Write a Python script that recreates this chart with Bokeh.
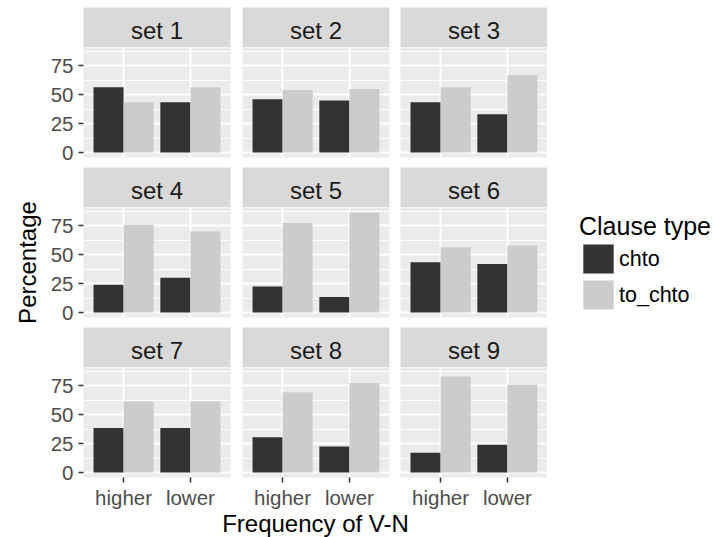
from bokeh.plotting import figure
from bokeh.layouts import row, column
from bokeh.models import (ColumnDataSource, FactorRange, Range1d, FixedTicker,
                          CategoricalTicker, Legend, LegendItem)
from bokeh.transform import dodge
from bokeh.core.properties import value
from bokeh.embed import file_html
from bokeh.resources import INLINE

# ---------------- data ----------------
sets = ["set 1", "set 2", "set 3", "set 4", "set 5", "set 6", "set 7", "set 8", "set 9"]
freq_levels = ["higher", "lower"]
clause_types = ["chto", "to_chto"]
chto_higher = [56.5, 46, 43.5, 24, 22.5, 43.5, 38.5, 30.5, 17]
chto_lower = [43.5, 45, 33, 30, 13.5, 42, 38.5, 22.5, 24]
to_chto_higher = [43.5, 54, 56.5, 76, 77.5, 56.5, 61.5, 69.5, 83]
to_chto_lower = [56.5, 55, 67, 70, 86.5, 58, 61.5, 77.5, 76]
y_ticks = [0, 25, 50, 75]
y_minor_ticks = [12.5, 37.5, 62.5, 87.5]
fill_colors = ["#333333", "#CCCCCC"]
x_title = "Frequency of V-N"
y_title = "Percentage"
legend_title = "Clause type"

FONT = "Liberation Sans"
ymax = max(max(chto_higher), max(chto_lower), max(to_chto_higher), max(to_chto_lower))
y_range = Range1d(-0.05 * ymax, 1.05 * ymax)

FRAME_W, FRAME_H, STRIP_H = 147, 110, 40
YLAB_W = 46
LEFT = [37, 0, 0]
RIGHT = [12, 11, 0]


def blank(**kw):
    f = figure(x_range=kw.pop("x_range", Range1d(0, 1)), y_range=Range1d(0, 1),
               x_axis_location=None, y_axis_location=kw.pop("y_axis_location", None),
               outline_line_color=None, toolbar_location=None,
               output_backend="svg", **kw)
    f.grid.visible = False
    return f


facets = []
for i, name in enumerate(sets):
    r, c = divmod(i, 3)
    s = blank(frame_width=FRAME_W, frame_height=STRIP_H,
              min_border_left=LEFT[c], min_border_right=RIGHT[c],
              min_border_top=7 if r == 0 else 0, min_border_bottom=0,
              background_fill_color="#D9D9D9")
    s.text(x=[0.5], y=[0.43], text=[name], text_align="center", text_baseline="middle",
           text_font=value(FONT), text_font_size="24px", text_color="#1A1A1A")

    src = ColumnDataSource(dict(freq=freq_levels,
                                chto=[chto_higher[i], chto_lower[i]],
                                to_chto=[to_chto_higher[i], to_chto_lower[i]]))
    xr = FactorRange(factors=freq_levels, range_padding=0.1, range_padding_units="percent")
    p = figure(x_range=xr, y_range=y_range,
               frame_width=FRAME_W, frame_height=FRAME_H,
               x_axis_location="below" if r == 2 else None,
               y_axis_location="left" if c == 0 else None,
               min_border_left=LEFT[c], min_border_right=RIGHT[c],
               min_border_top=0, min_border_bottom=32 if r == 2 else 10,
               background_fill_color="#EBEBEB", outline_line_color=None,
               toolbar_location=None, output_backend="svg")
    p.xgrid.ticker = CategoricalTicker()
    p.ygrid.ticker = FixedTicker(ticks=y_ticks, minor_ticks=y_minor_ticks)
    p.grid.grid_line_color = "white"
    p.grid.grid_line_width = 2
    p.ygrid.minor_grid_line_color = "white"
    p.ygrid.minor_grid_line_width = 1

    p.vbar(x=dodge("freq", -0.225, range=xr), top="chto", width=0.45, bottom=0,
           source=src, fill_color=fill_colors[0], line_color=None)
    p.vbar(x=dodge("freq", 0.225, range=xr), top="to_chto", width=0.45, bottom=0,
           source=src, fill_color=fill_colors[1], line_color=None)

    for ax in p.axis:
        ax.axis_line_color = None
        ax.major_tick_line_color = "#333333"
        ax.major_tick_line_width = 1.5
        ax.major_tick_out = 5
        ax.major_tick_in = 0
        ax.minor_tick_line_color = None
        ax.major_label_text_font = FONT
        ax.major_label_text_font_size = "20.5px"
        ax.major_label_text_color = "#4D4D4D"
    if c == 0:
        p.yaxis.ticker = FixedTicker(ticks=y_ticks)
        p.yaxis.major_label_standoff = 5
    if r == 2:
        p.xaxis.major_label_standoff = 3
    facets.append(column(s, p))

# y-axis title: an axis label of a tick-less axis whose frame spans the panel area
ylab = blank(y_axis_location="left", frame_width=6, frame_height=430,
             min_border_left=YLAB_W - 6, min_border_right=0,
             min_border_top=47, min_border_bottom=59)
ylab.frame_align = False
ylab.yaxis.ticker = FixedTicker(ticks=[])
ylab.yaxis.axis_line_color = None
ylab.yaxis.major_tick_out = 0
ylab.yaxis.major_tick_in = 0
ylab.yaxis.minor_tick_out = 0
ylab.yaxis.minor_tick_in = 0
ylab.yaxis.major_label_standoff = 0
ylab.yaxis.axis_label = y_title
ylab.yaxis.axis_label_standoff = 0
ylab.yaxis.axis_label_text_font = FONT
ylab.yaxis.axis_label_text_font_size = "24px"
ylab.yaxis.axis_label_text_font_style = "normal"
ylab.yaxis.axis_label_text_color = "black"

# x-axis title
xlab = blank(frame_width=3 * FRAME_W + 12 + 11, frame_height=27, min_border_left=LEFT[0],
             min_border_right=0, min_border_top=0, min_border_bottom=0)
xlab.text(x=[0.5], y=[0.55], text=[x_title], text_align="center",
          text_baseline="middle", text_font=value(FONT), text_font_size="24px",
          text_color="black")

# legend (its key renderers are hidden copies of the bars)
leg_src = ColumnDataSource(dict(freq=freq_levels,
                                chto=[chto_higher[5], chto_lower[5]],
                                to_chto=[to_chto_higher[5], to_chto_lower[5]]))
leg = blank(x_range=FactorRange(factors=freq_levels),
            frame_width=168, frame_height=110, min_border_left=0, min_border_right=0,
            min_border_top=207, min_border_bottom=220)
leg.frame_align = False
lr1 = leg.vbar(x="freq", top="chto", width=0.45, source=leg_src,
               fill_color=fill_colors[0], line_color=None, visible=False)
lr2 = leg.vbar(x="freq", top="to_chto", width=0.45, source=leg_src,
               fill_color=fill_colors[1], line_color=None, visible=False)
legend = Legend(items=[LegendItem(label=clause_types[0], renderers=[lr1]),
                       LegendItem(label=clause_types[1], renderers=[lr2])],
                title=legend_title, location="center_left", orientation="vertical",
                title_text_font=FONT, title_text_font_size="25px", title_text_color="black",
                title_text_font_style="normal", title_standoff=0,
                label_text_font=FONT, label_text_font_size="21.5px", label_text_color="black",
                label_standoff=2, label_height=34,
                glyph_width=38, glyph_height=36, spacing=0,
                padding=0, margin=32, border_line_color=None, background_fill_alpha=0)
leg.add_layout(legend)

panels = column(row(*facets[0:3]), row(*facets[3:6]), row(*facets[6:9]), xlab)
layout = row(ylab, panels, leg)
open("out.html", "w").write(file_html(layout, INLINE))
